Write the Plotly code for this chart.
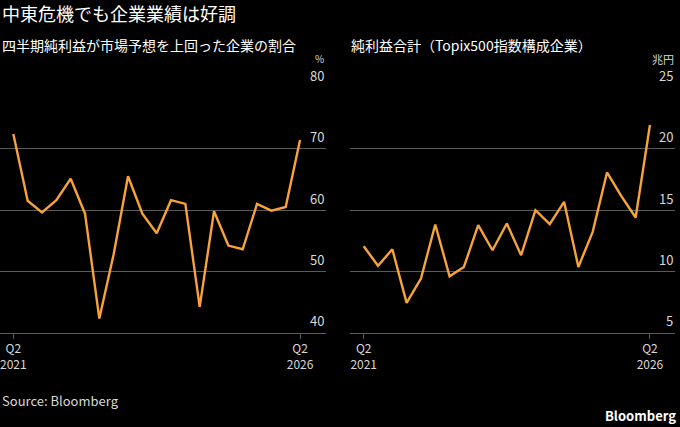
import plotly.graph_objects as go

W, H = 680, 427

quarters = ["2021 Q2", "2021 Q3", "2021 Q4", "2022 Q1", "2022 Q2", "2022 Q3", "2022 Q4",
            "2023 Q1", "2023 Q2", "2023 Q3", "2023 Q4", "2024 Q1", "2024 Q2", "2024 Q3",
            "2024 Q4", "2025 Q1", "2025 Q2", "2025 Q3", "2025 Q4", "2026 Q1", "2026 Q2"]

# share of companies beating estimates (%)
beat_pct = [72.4, 61.5, 59.6, 61.6, 65.1, 59.4, 42.3, 52.8, 65.5, 59.4, 56.2,
            61.6, 61.0, 44.2, 59.8, 54.2, 53.6, 61.0, 59.9, 60.5, 71.4]

# total net income, Topix500 (trillion yen)
net_income = [12.05, 10.45, 11.8, 7.43, 9.41, 13.82, 9.6, 10.36, 13.76, 11.72, 13.9,
              11.32, 14.99, 13.85, 15.67, 10.36, 13.22, 18.06, 16.13, 14.39, 21.93]

left_ticks = [40, 50, 60, 70, 80]
right_ticks = [5, 10, 15, 20, 25]
x_tickvals = ["2021 Q2", "2026 Q2"]
x_ticktext = ["Q2<br>2021", "Q2<br>2026"]

title = "中東危機でも企業業績は好調"
sub_left = "四半期純利益が市場予想を上回った企業の割合"
sub_right = "純利益合計（Topix500指数構成企業）"
unit_left = "%"
unit_right = "兆円"

FONT = "Noto Sans CJK JP"
ORANGE = "#F8A33A"
GRID = "#5a5a5a"
TXT = "#d8d8d8"

fig = go.Figure()
fig.add_trace(go.Scatter(x=quarters, y=beat_pct, mode="lines",
                         line=dict(color=ORANGE, width=2.4), xaxis="x", yaxis="y",
                         hoverinfo="x+y"))
fig.add_trace(go.Scatter(x=quarters, y=net_income, mode="lines",
                         line=dict(color=ORANGE, width=2.4), xaxis="x2", yaxis="y2",
                         hoverinfo="x+y"))

ydom = [1 - 332.7 / H, 1 - 87.3 / H]
xdom1 = [0, 325.7 / W]
xdom2 = [350 / W, 675 / W]

xcommon = dict(type="category", tickmode="array", tickvals=x_tickvals, ticktext=x_ticktext,
               showgrid=False, showline=True, linecolor=GRID, linewidth=1,
               ticks="outside", ticklen=5, tickcolor=GRID,
               tickfont=dict(family=FONT, size=12, color=TXT), fixedrange=True)
ycommon = dict(showgrid=True, gridcolor=GRID, gridwidth=1, showticklabels=False,
               zeroline=False, fixedrange=True)

fig.update_layout(
    width=W, height=H,
    margin=dict(l=0, r=0, t=0, b=0),
    paper_bgcolor="black", plot_bgcolor="black",
    showlegend=False,
    xaxis=dict(xcommon, domain=xdom1, anchor="y", range=[-0.93, 21.79]),
    xaxis2=dict(xcommon, domain=xdom2, anchor="y2", range=[-0.957, 21.75]),
    yaxis=dict(ycommon, domain=ydom, anchor="x", range=[40, 80], tickvals=left_ticks),
    yaxis2=dict(ycommon, domain=ydom, anchor="x2", range=[5, 25], tickvals=right_ticks),
)

ann = []
for v in left_ticks:
    ann.append(dict(text=str(v), xref="paper", x=xdom1[1], xanchor="right",
                    yref="y", y=v, yanchor="middle", yshift=12, showarrow=False,
                    font=dict(family=FONT, size=13, color=TXT)))
for v in right_ticks:
    ann.append(dict(text=str(v), xref="paper", x=xdom2[1], xanchor="right",
                    yref="y2", y=v, yanchor="middle", yshift=12, showarrow=False,
                    font=dict(family=FONT, size=13, color=TXT)))

def txt(s, x, y, size, color, xanchor="left", bold=False):
    if bold:
        s = "<b>" + s + "</b>"
    return dict(text=s, xref="paper", yref="paper", x=x / W, y=1 - y / H,
                xanchor=xanchor, yanchor="middle", showarrow=False,
                font=dict(family=FONT, size=size, color=color))

ann.append(txt(title, 0, 13, 18, "white"))
ann.append(txt(sub_left, 0, 45, 14, "white"))
ann.append(txt(sub_right, 349, 45, 14, "white"))
ann.append(txt(unit_left, 326, 59, 10, TXT, xanchor="right"))
ann.append(txt(unit_right, 676, 59, 11, TXT, xanchor="right"))
ann.append(txt("Source: Bloomberg", 0, 400, 13, TXT))
ann.append(txt("Bloomberg", 678, 415, 13, "white", xanchor="right", bold=True))

fig.update_layout(annotations=ann)

fig.write_html("out.html", config={"displayModeBar": False},
               post_script="document.body.style.margin='0';")
